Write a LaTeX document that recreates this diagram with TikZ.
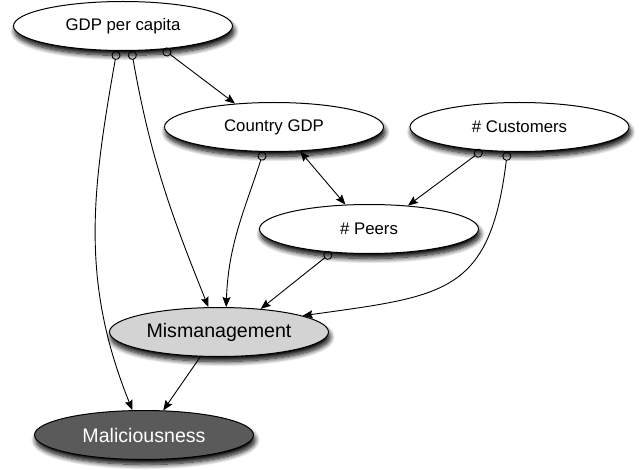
\documentclass[tikz,border=0pt]{standalone}
\usepackage{fontspec}
\setmainfont{Liberation Sans}
\usepackage{tikz}
\usetikzlibrary{positioning,arrows.meta,shapes.geometric,shadows.blur}
\definecolor{misfill}{RGB}{211,211,211}
\definecolor{malfill}{RGB}{90,90,90}

\begin{document}
\begin{tikzpicture}[x=1pt,y=-1pt,
  var/.style={
    ellipse, draw=black, line width=1pt, fill=white,
    minimum width=219pt, minimum height=49pt, inner sep=0pt,
    font=\fontsize{16.8}{20}\selectfont,
    blur shadow={shadow xshift=1.5pt,shadow yshift=-5pt,
      shadow blur steps=10,shadow blur radius=5pt,shadow opacity=100}
  },
  big/.style={font=\fontsize{19.6}{23}\selectfont},
  a/.style={{Circle[open,length=9pt]}-{Stealth[length=10pt,width=8pt,inset=1.5pt]},line width=0.9pt},
  b/.style={-{Stealth[length=10pt,width=8pt,inset=1.5pt]},line width=0.9pt},
  ab/.style={{Stealth[length=10pt,width=8pt,inset=1.5pt]}-{Stealth[length=10pt,width=8pt,inset=1.5pt]},line width=0.9pt}
]
\useasboundingbox (0,0) rectangle (639,470);
% Top row
\node[var] (gpc) at (123,26) {GDP per capita};
\node[var] (cgdp) at (274,127) {Country GDP};
\node[var] (cust) at (519.5,127) {\# Customers};
\node[var] (peers) at (369,229) {\# Peers};
% Outcomes
\node[var,big,fill=misfill] (mism) at (219,332) {Mismanagement};
\node[var,big,fill=malfill,text=white] (mal) at (144,435) {Maliciousness};

% Arrows
\draw[a] (gpc.-30.6)--(cgdp.149);
\draw[a] (gpc.-71.6) to[out=-80,in=112] (mism.113.8);
\draw[a] (gpc.-104) to[out=-100,in=112] (mal.115.8);
\draw[a] (cgdp.-113.7) to[out=-108,in=88] (mism.74.4);
\draw[ab] (cgdp.-43)--(peers.134.5);
\draw[a] (cust.-148.6)--(peers.31.6);
\draw[a] (cust.-116.7) to[out=-97,in=8,looseness=1.4] (mism.11.7);
\draw[a] (peers.-148.4)--(mism.29.5);
\draw[b] (mism.-127.7)--(mal.52.3);
\end{tikzpicture}
\end{document}
